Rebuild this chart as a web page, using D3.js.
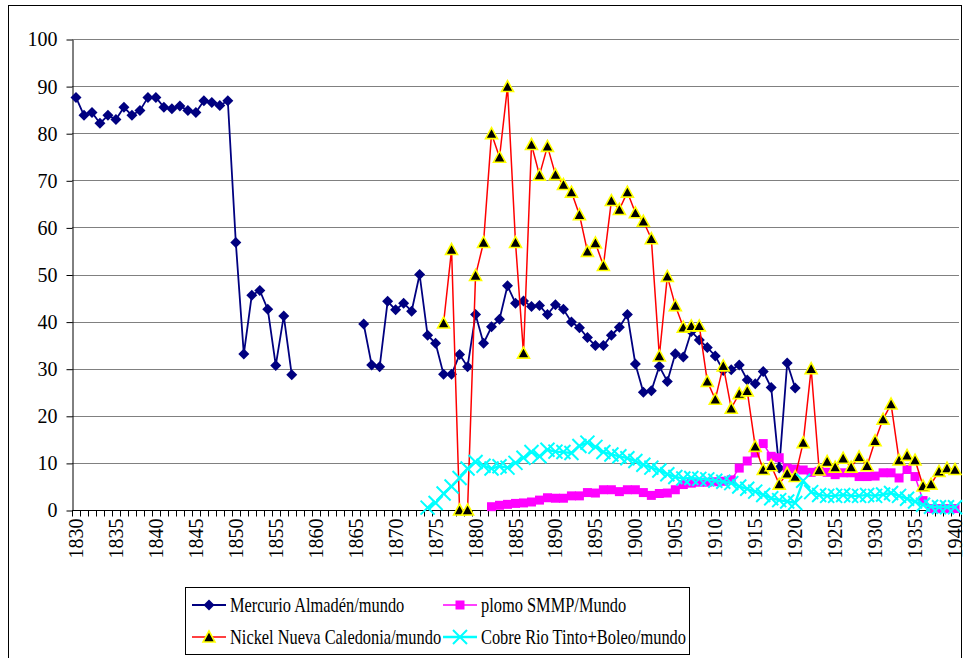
<!DOCTYPE html>
<html>
<head>
<meta charset="utf-8">
<script src="https://cdn.jsdelivr.net/npm/d3@7"></script>
<style>
  body { margin: 0; background: #fff; }
  text { font-family: "Liberation Serif", "Times New Roman", serif; }
</style>
</head>
<body>
<div id="my_dataviz"></div>
<script>
// years 1830..1940, one value per year (null = no data)
var years = d3.range(1830, 1941);
var yTicks = [0, 10, 20, 30, 40, 50, 60, 70, 80, 90, 100];

var mercurio = [
  87.6, 83.8, 84.4, 82.1, 83.8, 82.9, 85.5, 83.8, 84.8, 87.6,   // 1830s
  87.6, 85.5, 85.2, 85.8, 84.8, 84.4, 86.9, 86.5, 85.9, 86.9,   // 1840s
  56.8, 33.1, 45.6, 46.6, 42.6, 30.7, 41.2, 28.7, null, null,   // 1850s
  null, null, null, null, null, null, 39.5, 30.8, 30.4, 44.3,   // 1860s
  42.5, 43.9, 42.2, 50.0, 37.1, 35.4, 28.8, 28.8, 33.0, 30.4,   // 1870s
  41.5, 35.4, 38.9, 40.5, 47.6, 43.9, 44.4, 43.2, 43.4, 41.5,   // 1880s
  43.6, 42.6, 39.9, 38.7, 36.6, 34.9, 34.9, 37.1, 38.8, 41.5,   // 1890s
  31.0, 25.0, 25.3, 30.5, 27.3, 33.2, 32.5, 37.9, 36.1, 34.5,   // 1900s
  32.7, 29.6, 29.8, 30.8, 27.6, 26.8, 29.4, 26.0, 8.9, 31.2,    // 1910s
  25.9, null, null, null, null, null, null, null, null, null,   // 1920s
  null, null, null, null, null, null, null, null, null, null,   // 1930s
  null
];

var plomo = [
  null, null, null, null, null, null, null, null, null, null,
  null, null, null, null, null, null, null, null, null, null,
  null, null, null, null, null, null, null, null, null, null,
  null, null, null, null, null, null, null, null, null, null,
  null, null, null, null, null, null, null, null, null, null,
  null, null, 0.7, 1.0, 1.2, 1.4, 1.5, 1.7, 2.1, 2.6,
  2.5, 2.5, 3.0, 3.0, 3.7, 3.6, 4.3, 4.3, 3.9, 4.3,
  4.3, 3.7, 3.1, 3.5, 3.6, 4.3, 5.4, 5.7, 5.9, 5.9,
  6.0, 6.1, 6.4, 8.9, 10.4, 12.1, 14.1, 11.4, 11.1, 8.9,
  8.7, 8.5, 8.0, 8.2, 8.0, 7.5, 7.9, 7.9, 7.1, 7.1,
  7.2, 7.9, 7.9, 6.8, 8.6, 7.1, 2.0, 0.3, 0.3, 0.3,
  0.3
];

var nickel = [
  null, null, null, null, null, null, null, null, null, null,
  null, null, null, null, null, null, null, null, null, null,
  null, null, null, null, null, null, null, null, null, null,
  null, null, null, null, null, null, null, null, null, null,
  null, null, null, null, null, null, 39.7, 55.3, 0, 0,
  49.8, 56.8, 79.9, 74.9, 89.9, 56.8, 33.3, 77.6, 71.1, 77.2,
  71.2, 69.1, 67.5, 62.7, 54.9, 56.7, 51.9, 65.7, 63.8, 67.5,
  63.1, 61.3, 57.6, 32.7, 49.6, 43.4, 38.8, 39.1, 39.1, 27.3,
  23.5, 30.6, 21.6, 24.7, 25.3, 13.5, 8.6, 9.4, 5.5, 7.8,
  7.1, 14.3, 30.0, 8.5, 10.3, 9.1, 11.0, 9.1, 11.3, 9.4,
  14.7, 19.3, 22.5, 10.6, 11.6, 10.6, 5.1, 5.5, 8.2, 8.9,
  8.6
];

var cobre = [
  null, null, null, null, null, null, null, null, null, null,
  null, null, null, null, null, null, null, null, null, null,
  null, null, null, null, null, null, null, null, null, null,
  null, null, null, null, null, null, null, null, null, null,
  null, null, null, null, 0.5, 1.5, 3.5, 5.0, 6.8, 8.8,
  10.2, 9.4, 8.8, 9.3, 9.0, 10.0, 11.1, 12.3, 11.4, 12.8,
  12.4, 12.3, 12.1, 13.6, 14.3, 13.4, 12.3, 11.8, 11.4, 11.0,
  10.4, 9.6, 9.0, 8.4, 7.6, 7.0, 6.7, 6.8, 6.6, 6.5,
  6.2, 6.0, 5.7, 5.0, 4.5, 3.9, 3.2, 2.5, 2.1, 1.8,
  1.5, 6.2, 3.8, 3.2, 3.0, 3.0, 3.2, 3.0, 3.0, 3.2,
  3.0, 3.3, 3.6, 3.0, 2.4, 1.8, 1.1, 0.7, 0.6, 0.6,
  0.6
];

var seriesNames = [
  "Mercurio Almadén/mundo",
  "plomo SMMP/Mundo",
  "Nickel Nueva Caledonia/mundo",
  "Cobre Rio Tinto+Boleo/mundo"
];

var W = 964, H = 658;
var plot = { left: 72, right: 959, top: 39, bottom: 510 };

var svg = d3.select("#my_dataviz")
  .append("svg")
  .attr("width", W)
  .attr("height", H);

// chart frame (bottom runs off the picture)
svg.append("rect")
  .attr("x", 8.5).attr("y", 5.5)
  .attr("width", 953).attr("height", 700)
  .attr("fill", "none").attr("stroke", "#000").attr("stroke-width", 1);

var x = d3.scaleBand().domain(years).range([plot.left, plot.right]);
var y = d3.scaleLinear().domain([0, 100]).range([plot.bottom, plot.top]);
var cx = function (yr) { return x(yr) + x.bandwidth() / 2; };

// gridlines
svg.append("g")
  .selectAll("line")
  .data(yTicks.slice(1))
  .enter()
  .append("line")
  .attr("x1", plot.left).attr("x2", plot.right)
  .attr("y1", function (d) { return Math.round(y(d)) + 0.5; })
  .attr("y2", function (d) { return Math.round(y(d)) + 0.5; })
  .attr("stroke", "#808080");

// y axis
var yAxis = svg.append("g")
  .attr("transform", "translate(" + (plot.left + 0.5) + ",0.5)")
  .call(d3.axisLeft(y).tickValues(yTicks).tickSize(6).tickPadding(9).tickSizeOuter(0));
yAxis.select(".domain").attr("stroke", "#000");
yAxis.selectAll("text").attr("font-size", "20px").attr("fill", "#000")
  .style("font-family", "Liberation Serif");

// x axis: ticks between categories, labels every 5 years
var xg = svg.append("g").attr("transform", "translate(0," + (plot.bottom + 0.5) + ")");
xg.append("line")
  .attr("x1", plot.left).attr("x2", plot.right)
  .attr("stroke", "#000");
xg.selectAll("line.tk")
  .data(years.concat([null]))
  .enter()
  .append("line")
  .attr("class", "tk")
  .attr("x1", function (d) { return Math.round(d === null ? plot.right : x(d)) + 0.5; })
  .attr("x2", function (d) { return Math.round(d === null ? plot.right : x(d)) + 0.5; })
  .attr("y1", 0).attr("y2", 6)
  .attr("stroke", "#000");
xg.selectAll("text")
  .data(years.filter(function (d) { return d % 5 === 0; }))
  .enter()
  .append("text")
  .attr("transform", function (d) { return "translate(" + (cx(d) + 7) + ",8) rotate(-90)"; })
  .attr("text-anchor", "end")
  .attr("font-size", "20px")
  .text(function (d) { return d; });

// marker shapes
var diamond = "M0,-5.5L5.5,0L0,5.5L-5.5,0Z";
var square = "M-4.5,-4.5H4.5V4.5H-4.5Z";
var triangle = "M0,-6L6,5L-6,5Z";
var cross = "M-7,-7L7,7M-7,7L7,-7";

var series = [
  { values: mercurio, color: "#000080", width: 1.8, marker: diamond, fill: "#000080", stroke: "none", sw: 0 },
  { values: plomo, color: "#FF00FF", width: 1.5, marker: square, fill: "#FF00FF", stroke: "none", sw: 0 },
  { values: nickel, color: "#FF0000", width: 1.5, marker: triangle, fill: "#000", stroke: "#FFFF00", sw: 1.6 },
  { values: cobre, color: "#00FFFF", width: 2.4, marker: cross, fill: "none", stroke: "#00FFFF", sw: 2 }
];

var line = d3.line()
  .defined(function (d) { return d.v !== null; })
  .x(function (d) { return cx(d.year); })
  .y(function (d) { return y(d.v); });

series.forEach(function (s) {
  var pts = years.map(function (yr, i) { return { year: yr, v: s.values[i] }; });
  var g = svg.append("g");
  g.append("path")
    .datum(pts)
    .attr("d", line)
    .attr("fill", "none")
    .attr("stroke", s.color)
    .attr("stroke-width", s.width)
    .attr("stroke-linejoin", "round");
  g.selectAll("path.mk")
    .data(pts.filter(function (d) { return d.v !== null; }))
    .enter()
    .append("path")
    .attr("class", "mk")
    .attr("d", s.marker)
    .attr("transform", function (d) { return "translate(" + cx(d.year) + "," + y(d.v) + ")"; })
    .attr("fill", s.fill)
    .attr("stroke", s.stroke)
    .attr("stroke-width", s.sw);
});

// legend
var legend = svg.append("g");
legend.append("rect")
  .attr("x", 185.5).attr("y", 587.5)
  .attr("width", 504).attr("height", 67)
  .attr("fill", "#fff").attr("stroke", "#000");

var legPos = [
  { x: 192, y: 605 }, { x: 443, y: 605 },
  { x: 192, y: 637 }, { x: 443, y: 637 }
];

series.forEach(function (s, i) {
  var p = legPos[i];
  var g = legend.append("g").attr("transform", "translate(" + p.x + "," + p.y + ")");
  g.append("line")
    .attr("x1", 0).attr("x2", 34)
    .attr("stroke", s.color).attr("stroke-width", s.width);
  g.append("path")
    .attr("d", s.marker)
    .attr("transform", "translate(17,0)")
    .attr("fill", s.fill).attr("stroke", s.stroke).attr("stroke-width", s.sw);
  g.append("text")
    .attr("transform", "translate(38,7) scale(0.8,1)")
    .attr("font-size", "20.5px")
    .text(seriesNames[i]);
});
</script>
</body>
</html>
